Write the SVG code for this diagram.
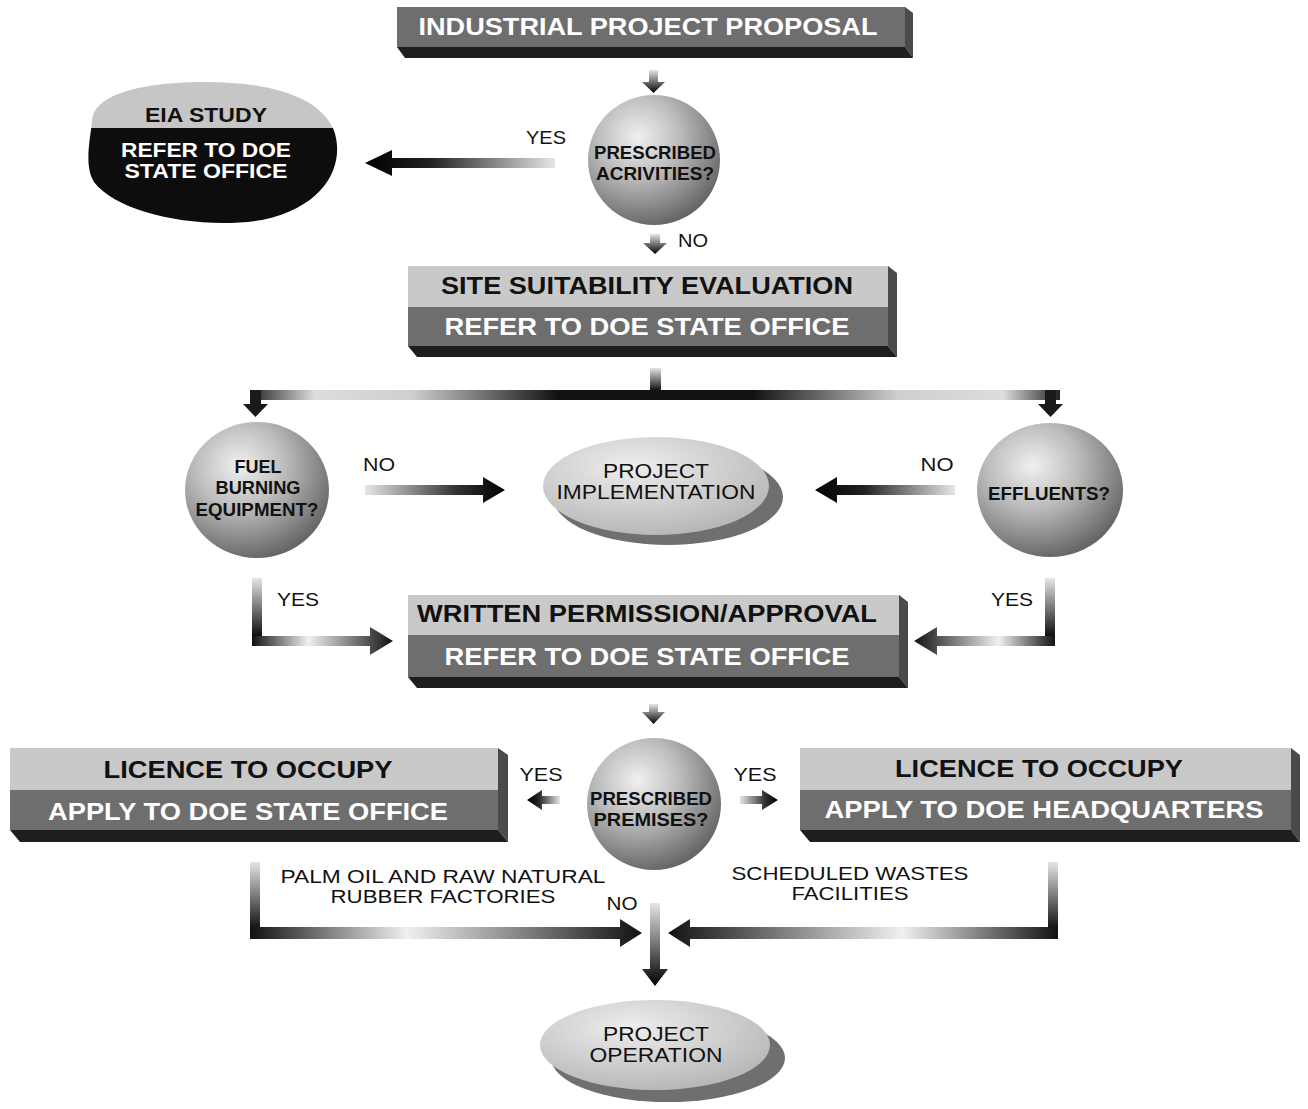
<svg xmlns="http://www.w3.org/2000/svg" width="1308" height="1109" viewBox="0 0 1308 1109">
<defs>
<style>
.t{font-family:"Liberation Sans",Arial,sans-serif;font-weight:bold;text-anchor:middle}
.big{font-size:23px}
.w{fill:#ffffff}
.k{fill:#111111}
.lab{font-family:"Liberation Sans",Arial,sans-serif;font-size:18px;fill:#111;text-anchor:middle}
.cond{font-family:"Liberation Sans",Arial,sans-serif;font-weight:bold;font-size:18px;fill:#111;text-anchor:middle}
.ell{font-family:"Liberation Sans",Arial,sans-serif;font-size:20px;fill:#111;text-anchor:middle}
.light{fill:#c9c9c9}
.mid{fill:#6e6e6e}
.side{fill:#4a4a4a}
.bot{fill:#1e1e1e}
</style>
<radialGradient id="sph" cx="0.38" cy="0.32" r="0.7">
<stop offset="0" stop-color="#f0f0f0"/>
<stop offset="0.45" stop-color="#bcbcbc"/>
<stop offset="1" stop-color="#666"/>
</radialGradient>
<radialGradient id="ellTop" cx="0.4" cy="0.3" r="0.75">
<stop offset="0" stop-color="#eeeeee"/>
<stop offset="1" stop-color="#b4b4b4"/>
</radialGradient>
<linearGradient id="gL" x1="0" y1="0" x2="1" y2="0">
<stop offset="0" stop-color="#000"/>
<stop offset="0.35" stop-color="#222"/>
<stop offset="1" stop-color="#e6e6e6"/>
</linearGradient>
<linearGradient id="gR" x1="0" y1="0" x2="1" y2="0">
<stop offset="0" stop-color="#e6e6e6"/>
<stop offset="0.65" stop-color="#333"/>
<stop offset="1" stop-color="#000"/>
</linearGradient>
<linearGradient id="gD" x1="0" y1="0" x2="0" y2="1">
<stop offset="0" stop-color="#e6e6e6"/>
<stop offset="1" stop-color="#000"/>
</linearGradient>
<linearGradient id="gSplit" x1="0" y1="0" x2="1" y2="0">
<stop offset="0" stop-color="#222"/>
<stop offset="0.08" stop-color="#dddddd"/>
<stop offset="0.2" stop-color="#cfcfcf"/>
<stop offset="0.38" stop-color="#111"/>
<stop offset="0.62" stop-color="#111"/>
<stop offset="0.8" stop-color="#cfcfcf"/>
<stop offset="0.93" stop-color="#dddddd"/>
<stop offset="1" stop-color="#222"/>
</linearGradient>
<linearGradient id="gMidR" x1="0" y1="0" x2="1" y2="0">
<stop offset="0" stop-color="#111"/>
<stop offset="0.4" stop-color="#f0f0f0"/>
<stop offset="1" stop-color="#111"/>
</linearGradient>
<linearGradient id="gMidL" x1="0" y1="0" x2="1" y2="0">
<stop offset="0" stop-color="#111"/>
<stop offset="0.6" stop-color="#f0f0f0"/>
<stop offset="1" stop-color="#111"/>
</linearGradient>
<clipPath id="blob">
<path d="M92,122 C92,96 135,83 200,82 C268,81 318,96 333,128 C346,160 330,206 262,220 C200,230 118,214 94,182 C84,166 90,140 92,122 Z"/>
</clipPath>
</defs>

<g id="connectors">
<path d="M649,70 L658,70 L658,82 L665,82 L653.5,93 L642,82 L649,82 Z" fill="url(#gD)"/>
<path d="M555,158 L392,158 L392,150 L365,163 L392,176 L392,168 L555,168 Z" fill="url(#gL)"/>
<path d="M650,234 L660,234 L660,243 L667,243 L655,254 L643,243 L650,243 Z" fill="url(#gD)"/>
<rect x="650" y="368" width="11" height="24" fill="url(#gD)"/>
<rect x="250" y="390" width="810" height="10" fill="url(#gSplit)"/>
<path d="M250,390 L261,390 L261,404 L268,404 L255.5,417 L243,404 L250,404 Z" fill="#1a1a1a"/>
<path d="M1045,390 L1056,390 L1056,404 L1063,404 L1050.5,417 L1038,404 L1045,404 Z" fill="#1a1a1a"/>
<path d="M365,485 L483,485 L483,477 L505,490 L483,503 L483,495 L365,495 Z" fill="url(#gR)"/>
<path d="M955,485 L837,485 L837,477 L815,490 L837,503 L837,495 L955,495 Z" fill="url(#gL)"/>
<rect x="252" y="578" width="10" height="62" fill="url(#gD)"/>
<path d="M252,636 L370,636 L370,627 L393,641 L370,655 L370,646 L252,646 Z" fill="url(#gMidR)"/>
<rect x="1045" y="578" width="10" height="62" fill="url(#gD)"/>
<path d="M1055,636 L937,636 L937,627 L914,641 L937,655 L937,646 L1055,646 Z" fill="url(#gMidL)"/>
<path d="M649,704 L658,704 L658,712 L665,712 L653.5,724 L642,712 L649,712 Z" fill="url(#gD)"/>
<path d="M560,796 L542,796 L542,790 L527,800 L542,810 L542,804 L560,804 Z" fill="url(#gL)"/>
<path d="M740,796 L762,796 L762,790 L778,800 L762,810 L762,804 L740,804 Z" fill="url(#gR)"/>
<rect x="250" y="862" width="10" height="72" fill="url(#gD)"/>
<path d="M250,927 L620,927 L620,919 L642,933 L620,947 L620,939 L250,939 Z" fill="url(#gMidR)"/>
<rect x="1048" y="862" width="10" height="72" fill="url(#gD)"/>
<path d="M1058,927 L690,927 L690,919 L668,933 L690,947 L690,939 L1058,939 Z" fill="url(#gMidL)"/>
<path d="M650,903 L660,903 L660,969 L668,969 L655,986 L642,969 L650,969 Z" fill="url(#gD)"/>
</g>

<g id="labels">
<text class="lab" x="546" y="144" textLength="40" lengthAdjust="spacingAndGlyphs">YES</text>
<text class="lab" x="693" y="247" textLength="30" lengthAdjust="spacingAndGlyphs">NO</text>
<text class="lab" x="379" y="471" textLength="32" lengthAdjust="spacingAndGlyphs">NO</text>
<text class="lab" x="937" y="471" textLength="33" lengthAdjust="spacingAndGlyphs">NO</text>
<text class="lab" x="298" y="606" textLength="42" lengthAdjust="spacingAndGlyphs">YES</text>
<text class="lab" x="1012" y="606" textLength="42" lengthAdjust="spacingAndGlyphs">YES</text>
<text class="lab" x="541" y="781" textLength="43" lengthAdjust="spacingAndGlyphs">YES</text>
<text class="lab" x="755" y="781" textLength="43" lengthAdjust="spacingAndGlyphs">YES</text>
<text class="lab" x="622" y="910" textLength="31" lengthAdjust="spacingAndGlyphs">NO</text>
<text class="lab" x="443" y="883" textLength="325" lengthAdjust="spacingAndGlyphs">PALM OIL AND RAW NATURAL</text>
<text class="lab" x="443" y="903" textLength="225" lengthAdjust="spacingAndGlyphs">RUBBER FACTORIES</text>
<text class="lab" x="850" y="880" textLength="237" lengthAdjust="spacingAndGlyphs">SCHEDULED WASTES</text>
<text class="lab" x="850" y="900" textLength="117" lengthAdjust="spacingAndGlyphs">FACILITIES</text>
</g>

<g id="proposal">
<polygon class="side" points="905,7 913,13 913,58 905,47"/>
<polygon class="bot" points="397,47 905,47 913,58 405,58"/>
<rect class="mid" x="397" y="7" width="508" height="40"/>
<text class="t big w" x="648" y="35" textLength="459" lengthAdjust="spacingAndGlyphs">INDUSTRIAL PROJECT PROPOSAL</text>
</g>

<g id="eia">
<g clip-path="url(#blob)">
<rect x="80" y="75" width="270" height="54" fill="#c6c6c6"/>
<rect x="80" y="128" width="270" height="110" fill="#0d0d0d"/>
</g>
<text class="t" style="font-size:20px" x="206" y="122" fill="#111" textLength="122" lengthAdjust="spacingAndGlyphs">EIA STUDY</text>
<text class="t w" style="font-size:20px" x="206" y="157" textLength="170" lengthAdjust="spacingAndGlyphs">REFER TO DOE</text>
<text class="t w" style="font-size:20px" x="206" y="178" textLength="163" lengthAdjust="spacingAndGlyphs">STATE OFFICE</text>
</g>

<g id="prescribed-activities">
<ellipse cx="654" cy="160" rx="66" ry="65" fill="url(#sph)"/>
<text class="cond" x="655" y="159" textLength="122" lengthAdjust="spacingAndGlyphs">PRESCRIBED</text>
<text class="cond" x="655" y="180" textLength="118" lengthAdjust="spacingAndGlyphs">ACRIVITIES?</text>
</g>

<g id="site">
<polygon class="side" points="888,266 897,273 897,357 888,346"/>
<polygon class="bot" points="408,346 888,346 897,357 417,357"/>
<rect class="light" x="408" y="266" width="480" height="41"/>
<rect class="mid" x="408" y="307" width="480" height="39"/>
<text class="t big k" x="647" y="294" textLength="412" lengthAdjust="spacingAndGlyphs">SITE SUITABILITY EVALUATION</text>
<text class="t big w" x="647" y="335" textLength="405" lengthAdjust="spacingAndGlyphs">REFER TO DOE STATE OFFICE</text>
</g>

<g id="fuel">
<ellipse cx="257" cy="490" rx="72" ry="68" fill="url(#sph)"/>
<text class="cond" x="258" y="473" textLength="47" lengthAdjust="spacingAndGlyphs">FUEL</text>
<text class="cond" x="258" y="494" textLength="85" lengthAdjust="spacingAndGlyphs">BURNING</text>
<text class="cond" x="257" y="516" textLength="123" lengthAdjust="spacingAndGlyphs">EQUIPMENT?</text>
</g>

<g id="implementation">
<ellipse cx="668" cy="497" rx="115" ry="48" fill="#6f6f6f"/>
<ellipse cx="656" cy="486" rx="113" ry="49" fill="url(#ellTop)"/>
<text class="ell" x="656" y="478" textLength="106" lengthAdjust="spacingAndGlyphs">PROJECT</text>
<text class="ell" x="656" y="499" textLength="199" lengthAdjust="spacingAndGlyphs">IMPLEMENTATION</text>
</g>

<g id="effluents">
<ellipse cx="1050" cy="490" rx="73" ry="67" fill="url(#sph)"/>
<text class="cond" x="1049" y="500" textLength="122" lengthAdjust="spacingAndGlyphs">EFFLUENTS?</text>
</g>

<g id="written">
<polygon class="side" points="899,595 908,602 908,688 899,677"/>
<polygon class="bot" points="408,677 899,677 908,688 417,688"/>
<rect class="light" x="408" y="595" width="491" height="40"/>
<rect class="mid" x="408" y="635" width="491" height="42"/>
<text class="t big k" x="647" y="622" textLength="460" lengthAdjust="spacingAndGlyphs">WRITTEN PERMISSION/APPROVAL</text>
<text class="t big w" x="647" y="665" textLength="405" lengthAdjust="spacingAndGlyphs">REFER TO DOE STATE OFFICE</text>
</g>

<g id="prescribed-premises">
<ellipse cx="654" cy="804" rx="67" ry="66" fill="url(#sph)"/>
<text class="cond" x="651" y="805" textLength="122" lengthAdjust="spacingAndGlyphs">PRESCRIBED</text>
<text class="cond" x="651" y="826" textLength="115" lengthAdjust="spacingAndGlyphs">PREMISES?</text>
</g>

<g id="licence-state">
<polygon class="side" points="498,748 508,755 508,842 498,830"/>
<polygon class="bot" points="10,830 498,830 508,842 20,842"/>
<rect class="light" x="10" y="748" width="488" height="42"/>
<rect class="mid" x="10" y="790" width="488" height="40"/>
<text class="t big k" x="248" y="778" textLength="289" lengthAdjust="spacingAndGlyphs">LICENCE TO OCCUPY</text>
<text class="t big w" x="248" y="820" textLength="400" lengthAdjust="spacingAndGlyphs">APPLY TO DOE STATE OFFICE</text>
</g>

<g id="licence-hq">
<polygon class="side" points="1291,748 1300,755 1300,842 1291,830"/>
<polygon class="bot" points="800,830 1291,830 1300,842 810,842"/>
<rect class="light" x="800" y="748" width="491" height="42"/>
<rect class="mid" x="800" y="790" width="491" height="40"/>
<text class="t big k" x="1039" y="777" textLength="288" lengthAdjust="spacingAndGlyphs">LICENCE TO OCCUPY</text>
<text class="t big w" x="1044" y="818" textLength="439" lengthAdjust="spacingAndGlyphs">APPLY TO DOE HEADQUARTERS</text>
</g>

<g id="operation">
<ellipse cx="668" cy="1058" rx="117" ry="44" fill="#6f6f6f"/>
<ellipse cx="655" cy="1045" rx="115" ry="45" fill="url(#ellTop)"/>
<text class="ell" x="656" y="1041" textLength="106" lengthAdjust="spacingAndGlyphs">PROJECT</text>
<text class="ell" x="656" y="1062" textLength="133" lengthAdjust="spacingAndGlyphs">OPERATION</text>
</g>
</svg>
